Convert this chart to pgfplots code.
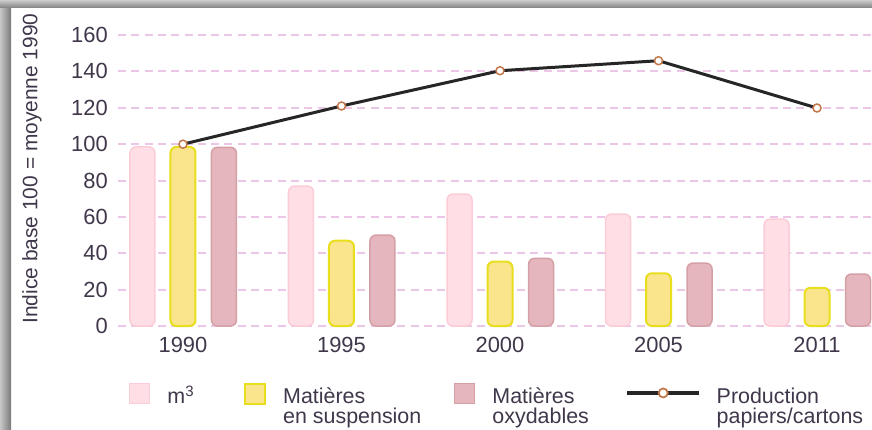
\documentclass[border=0pt]{standalone}
\usepackage{pgfplots}
\pgfplotsset{compat=1.18}
\usepackage{fontspec}
\setmainfont{Liberation Sans}
\definecolor{txt}{RGB}{65,55,75}
\definecolor{pinkf}{RGB}{255,222,230}
\definecolor{pinkd}{RGB}{252,205,215}
\definecolor{yelf}{RGB}{250,228,140}
\definecolor{yeld}{RGB}{232,222,30}
\definecolor{rosef}{RGB}{230,182,190}
\definecolor{rosed}{RGB}{212,160,166}
\definecolor{gridc}{RGB}{236,198,230}
\definecolor{mk}{RGB}{195,120,75}
\begin{document}
\begin{tikzpicture}[x=1bp,y=1bp]
\useasboundingbox (0,0) rectangle (872,429);
\fill[white] (0,0) rectangle (872,429);
\shade[left color=black!22, right color=black!52] (0,0) rectangle (11,429);
\shade[top color=black!20, bottom color=black!50] (0,421) rectangle (872,429);
\begin{axis}[
  at={(118bp,103bp)}, anchor=south west,
  scale only axis, width=754bp, height=300bp,
  xmin=-0.41, xmax=4.347, ymin=0, ymax=165,
  axis line style={draw=none},
  major tick length=0pt,
  ytick={0,20,...,160},
  xtick={0,1,2,3,4},
  xticklabels={1990,1995,2000,2005,2011},
  ymajorgrids,
  major grid style={gridc, line width=2bp, dash pattern=on 8bp off 5.3bp},
  tick label style={font=\fontsize{22}{24}\selectfont, text=txt},
  /pgf/number format/assume math mode=true,
  yticklabel style={anchor=east, inner sep=0pt, xshift=-10bp},
  xticklabel style={anchor=north, inner sep=0pt, yshift=-11bp},
  ylabel={Indice base 100 = moyenne 1990},
  every axis y label/.style={at={(axis description cs:-0.1141,0.525)}, rotate=90, anchor=center, font=\fontsize{21}{23}\selectfont, text=txt},
  clip=false,
  legend columns=4,
  legend cell align=left,
  legend style={at={(axis description cs:0.0146,-0.19)}, anchor=north west, draw=none, fill=none, inner sep=0pt, column sep=0pt, row sep=0pt,
    nodes={inner sep=0pt, anchor=base west, font=\fontsize{21.5}{20}\selectfont, text=txt}},
]
\addplot[ybar, bar width=25bp, bar shift=-40.5bp, fill=pinkf, draw=pinkd, line width=1.5bp, rounded corners=6bp,
  legend image code/.code={\fill[sharp corners, pinkf, draw=pinkd, line width=1bp] (0bp,0bp) rectangle (20bp,20bp); \path (37bp,0bp);}]
  coordinates {(0,98.5) (1,77) (2,72.6) (3,61.6) (4,58.8)};
\addlegendentry{\parbox[t]{77bp}{m\textsuperscript{3}}}
\addplot[ybar, bar width=25bp, bar shift=0bp, fill=yelf, draw=yeld, line width=2bp, rounded corners=6bp,
  legend image code/.code={\fill[sharp corners, yelf, draw=yeld, line width=1.5bp] (0bp,0bp) rectangle (20bp,20bp); \path (37bp,0bp);}]
  coordinates {(0,98.5) (1,46.9) (2,35.4) (3,29) (4,21)};
\addlegendentry{\parbox[t]{171bp}{Matières\\en suspension}}
\addplot[ybar, bar width=25bp, bar shift=41bp, fill=rosef, draw=rosed, line width=1.5bp, rounded corners=6bp,
  legend image code/.code={\fill[sharp corners, rosef, draw=rosed, line width=1bp] (0bp,0bp) rectangle (20bp,20bp); \path (37bp,0bp);}]
  coordinates {(0,98.3) (1,50) (2,37.2) (3,34.6) (4,28.6)};
\addlegendentry{\parbox[t]{133bp}{Matières\\oxydables}}
\addplot[black!85, line width=3bp, mark=*, mark size=4bp, mark options={fill=white, draw=mk, line width=1.5bp},
  legend image code/.code={\draw[black!85, line width=3.5bp, mark=*, mark size=4.5bp, mark repeat=2, mark phase=2, mark options={fill=white, draw=mk, line width=1.8bp}] plot coordinates {(0bp,11bp) (36bp,11bp) (72bp,11bp)}; \path (88bp,0bp);}]
  coordinates {(0,100) (1,121) (2,140.4) (3,145.9) (4,119.9)};
\addlegendentry{\parbox[t]{145bp}{Production\\papiers/cartons}}
\end{axis}
\end{tikzpicture}
\end{document}
